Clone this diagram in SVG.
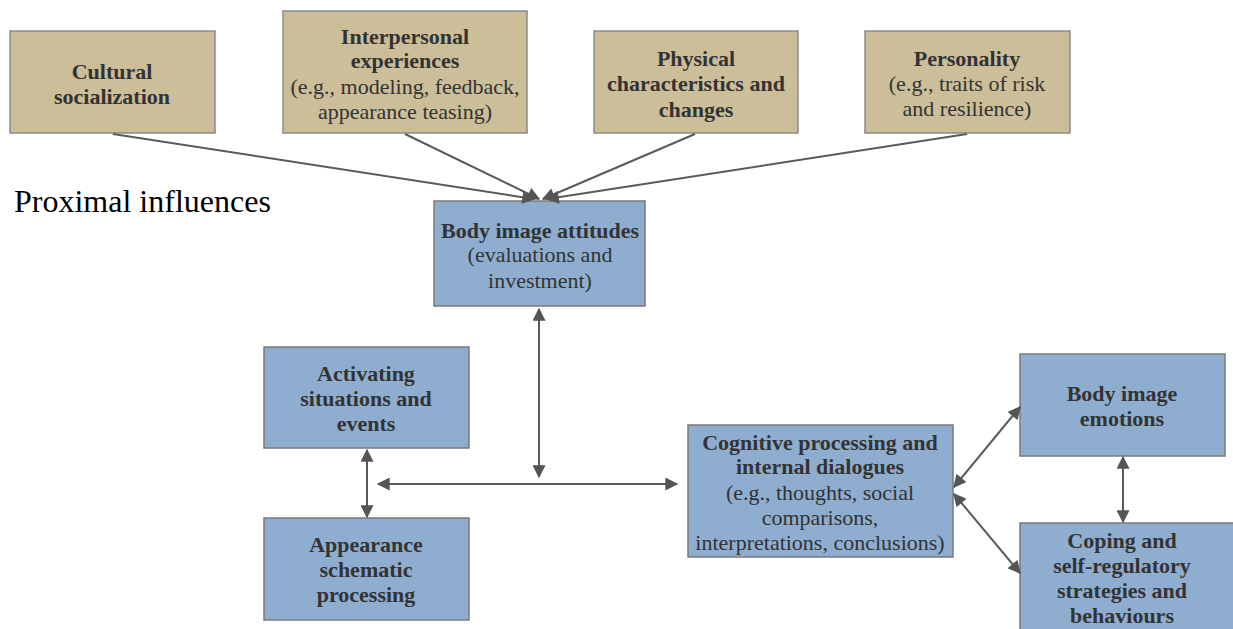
<svg xmlns="http://www.w3.org/2000/svg" width="1233" height="629" viewBox="0 0 1233 629">
<defs>
<marker id="ah" viewBox="0 0 10 10" refX="9" refY="5" markerWidth="14" markerHeight="13" markerUnits="userSpaceOnUse" orient="auto-start-reverse">
<path d="M0,0 L10,5 L0,10 z" fill="#555"/>
</marker>
<style>
.tan{fill:#cbbe99;stroke:#8a8a8a;stroke-width:1.5}
.blue{fill:#8eadcf;stroke:#7a7a7a;stroke-width:1.5}
text{font-family:"Liberation Serif","Times New Roman",serif;font-size:22px;fill:#333;text-anchor:middle}
.b{font-weight:bold}
.con{stroke:#5a5a5a;stroke-width:2;fill:none}
</style>
</defs>
<rect width="1233" height="629" fill="#fff"/>
<text x="14" y="212" style="font-size:32px;fill:#000;text-anchor:start">Proximal influences</text>
<g id="cultural">
<rect class="tan" x="10" y="31" width="205" height="102"/>
<text class="b" x="112" y="79">Cultural</text>
<text class="b" x="112" y="104">socialization</text>
</g>
<g id="interpersonal">
<rect class="tan" x="283" y="11" width="244" height="122"/>
<text class="b" x="405" y="44">Interpersonal</text>
<text class="b" x="405" y="68">experiences</text>
<text x="405" y="94">(e.g., modeling, feedback,</text>
<text x="405" y="119">appearance teasing)</text>
</g>
<g id="physical">
<rect class="tan" x="594" y="31" width="204" height="102"/>
<text class="b" x="696" y="66">Physical</text>
<text class="b" x="696" y="91">characteristics and</text>
<text class="b" x="696" y="117">changes</text>
</g>
<g id="personality">
<rect class="tan" x="865" y="31" width="205" height="102"/>
<text class="b" x="967" y="66">Personality</text>
<text x="967" y="91">(e.g., traits of risk</text>
<text x="967" y="116">and resilience)</text>
</g>
<g id="attitudes">
<rect class="blue" x="434" y="201" width="211" height="105"/>
<text class="b" x="540" y="238">Body image attitudes</text>
<text x="540" y="262">(evaluations and</text>
<text x="540" y="288">investment)</text>
</g>
<g id="activating">
<rect class="blue" x="264" y="347" width="205" height="101"/>
<text class="b" x="366" y="381">Activating</text>
<text class="b" x="366" y="406">situations and</text>
<text class="b" x="366" y="431">events</text>
</g>
<g id="appearance">
<rect class="blue" x="264" y="518" width="205" height="102"/>
<text class="b" x="366" y="552">Appearance</text>
<text class="b" x="366" y="577">schematic</text>
<text class="b" x="366" y="602">processing</text>
</g>
<g id="cognitive">
<rect class="blue" x="688" y="425" width="265" height="132"/>
<text class="b" x="820" y="450">Cognitive processing and</text>
<text class="b" x="820" y="474">internal dialogues</text>
<text x="820" y="500">(e.g., thoughts, social</text>
<text x="820" y="525">comparisons,</text>
<text x="820" y="550">interpretations, conclusions)</text>
</g>
<g id="emotions">
<rect class="blue" x="1020" y="354" width="205" height="102"/>
<text class="b" x="1122" y="401">Body image</text>
<text class="b" x="1122" y="426">emotions</text>
</g>
<g id="coping">
<rect class="blue" x="1020" y="523" width="215" height="110"/>
<text class="b" x="1122" y="548">Coping and</text>
<text class="b" x="1122" y="573">self-regulatory</text>
<text class="b" x="1122" y="598">strategies and</text>
<text class="b" x="1122" y="623">behaviours</text>
</g>
<g id="connectors">
<line class="con" x1="113" y1="134" x2="534" y2="199" marker-end="url(#ah)"/>
<line class="con" x1="405" y1="134" x2="539" y2="199" marker-end="url(#ah)"/>
<line class="con" x1="695" y1="134" x2="543" y2="199" marker-end="url(#ah)"/>
<line class="con" x1="967" y1="134" x2="547" y2="199" marker-end="url(#ah)"/>
<line class="con" x1="539" y1="309" x2="539" y2="477" marker-start="url(#ah)" marker-end="url(#ah)"/>
<line class="con" x1="378" y1="484" x2="677" y2="484" marker-start="url(#ah)" marker-end="url(#ah)"/>
<line class="con" x1="367" y1="450" x2="367" y2="517" marker-start="url(#ah)" marker-end="url(#ah)"/>
<line class="con" x1="954" y1="487" x2="1020" y2="407" marker-start="url(#ah)" marker-end="url(#ah)"/>
<line class="con" x1="954" y1="494" x2="1020" y2="573" marker-start="url(#ah)" marker-end="url(#ah)"/>
<line class="con" x1="1123" y1="457" x2="1123" y2="522" marker-start="url(#ah)" marker-end="url(#ah)"/>
</g>
</svg>
